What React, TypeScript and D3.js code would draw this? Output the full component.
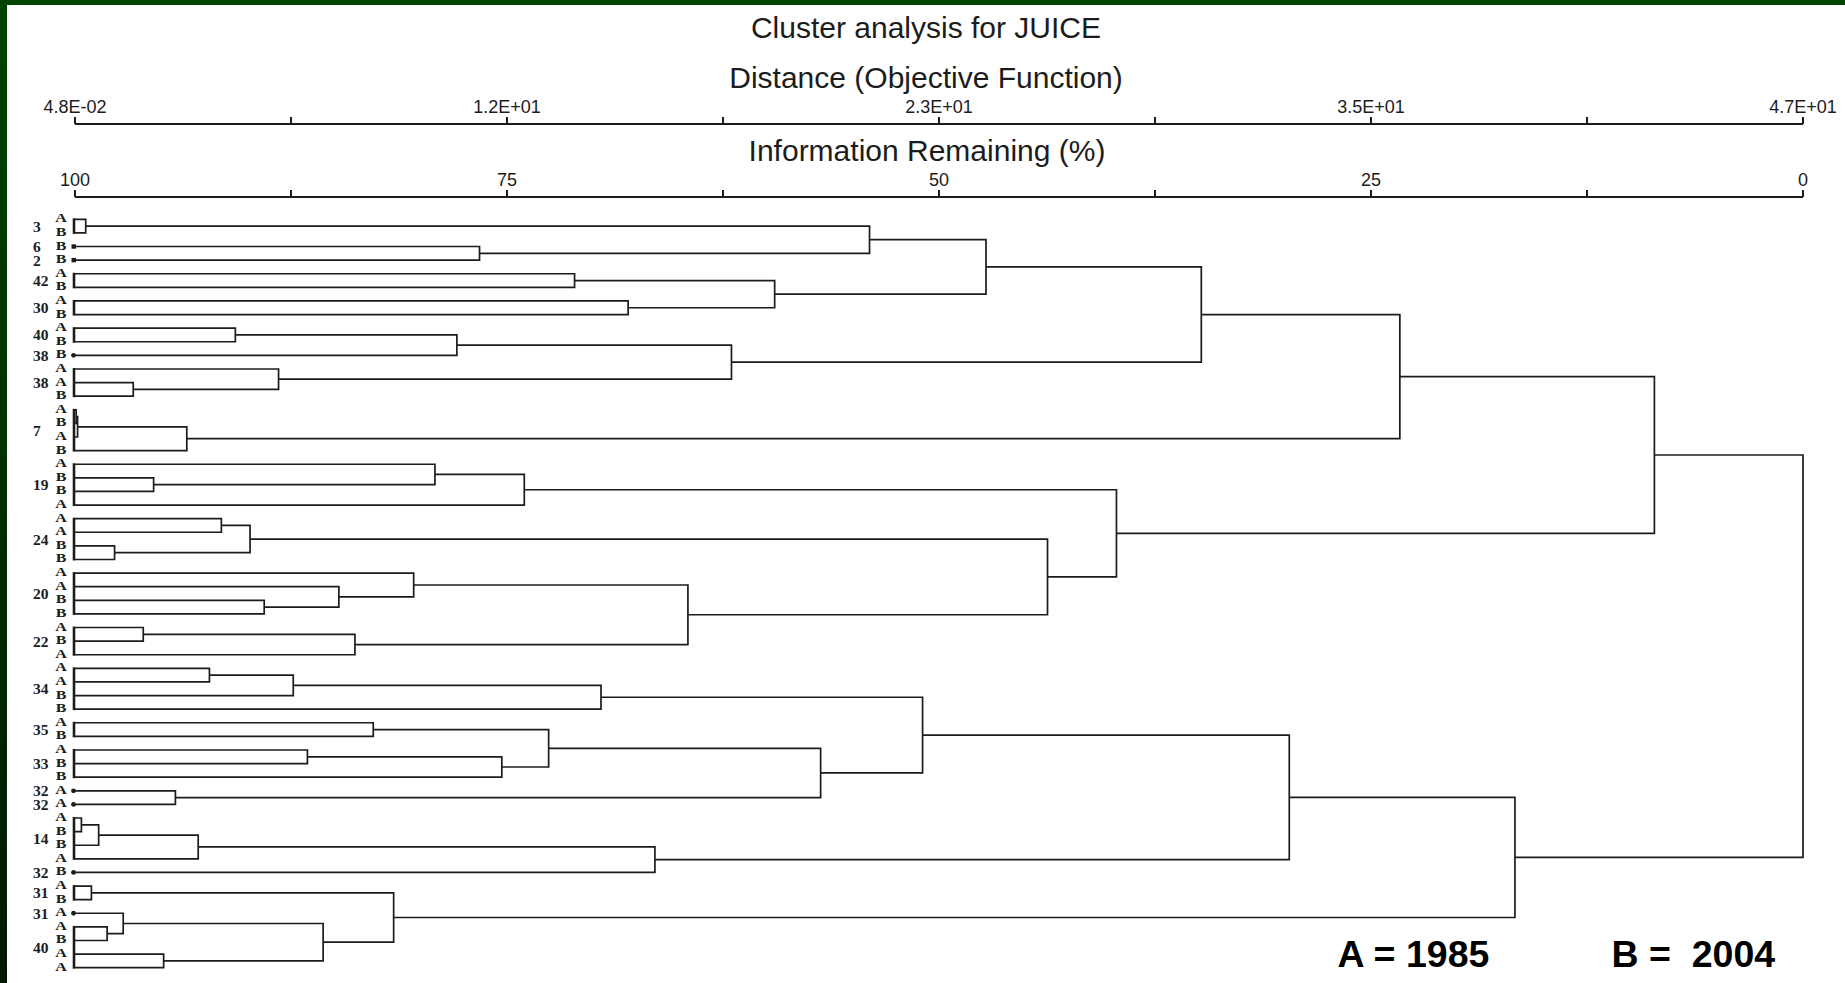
import React from 'react';
import * as d3 from 'd3';

// ---------------- data ----------------
const title = 'Cluster analysis for JUICE';
const distanceTitle = 'Distance (Objective Function)';
const infoTitle = 'Information Remaining (%)';

// major tick positions (information remaining, %) and their labels on the two axes
const majorTicks = [100, 75, 50, 25, 0];
const infoLabels = ['100', '75', '50', '25', '0'];
const distanceLabels = ['4.8E-02', '1.2E+01', '2.3E+01', '3.5E+01', '4.7E+01'];
const minorTicks = [87.5, 62.5, 37.5, 12.5];

// leaf groups, top to bottom: site number and the years (A/B) of its leaves
const groupSites = ['3', '6', '2', '42', '30', '40', '38', '38', '7', '19', '24', '20', '22', '34', '35', '33', '32', '32', '14', '32', '31', '31', '40'];
const groupYears = ['AB', 'B', 'B', 'AB', 'AB', 'AB', 'B', 'AAB', 'ABAB', 'ABBA', 'AABB', 'AABB', 'ABA', 'AABB', 'AB', 'ABB', 'A', 'A', 'ABBA', 'B', 'AB', 'A', 'ABAA'];
const squareMarkerGroups = [1, 2];

// merges: [child a, child b, information remaining %]; leaves are 0..55, merge k creates node 56+k
const merges: [number, number, number][] = [
  [0, 1, 99.38],
  [2, 3, 76.59],
  [56, 57, 54.02],
  [4, 5, 71.09],
  [6, 7, 67.99],
  [59, 60, 59.51],
  [58, 61, 47.28],
  [8, 9, 90.72],
  [63, 10, 77.9],
  [12, 13, 96.63],
  [11, 65, 88.22],
  [64, 66, 62.01],
  [62, 67, 34.82],
  [14, 15, 99.93],
  [69, 16, 99.85],
  [70, 17, 93.53],
  [68, 71, 23.33],
  [19, 20, 95.45],
  [18, 73, 79.17],
  [74, 21, 74.0],
  [22, 23, 91.53],
  [24, 25, 97.71],
  [76, 77, 89.87],
  [28, 29, 89.05],
  [27, 79, 84.73],
  [26, 80, 80.4],
  [30, 31, 96.05],
  [82, 32, 83.8],
  [81, 83, 64.53],
  [78, 84, 43.72],
  [75, 85, 39.73],
  [72, 86, 8.6],
  [33, 34, 92.22],
  [88, 35, 87.37],
  [89, 36, 69.56],
  [37, 38, 82.74],
  [39, 40, 86.55],
  [92, 41, 75.3],
  [91, 93, 72.59],
  [42, 43, 94.19],
  [94, 95, 56.85],
  [90, 96, 50.95],
  [44, 45, 99.63],
  [98, 46, 98.63],
  [99, 47, 92.87],
  [100, 48, 66.44],
  [97, 101, 29.73],
  [49, 50, 99.05],
  [52, 53, 98.14],
  [51, 104, 97.21],
  [54, 55, 94.87],
  [105, 106, 85.64],
  [103, 107, 81.56],
  [102, 108, 16.67],
  [87, 109, 0],
];

const legendA = 'A = 1985';
const legendB = 'B =  2004';

// ---------------- chart ----------------
const W = 1845;
const H = 983;
const sans = '"Liberation Sans", Arial, Helvetica, sans-serif';
const serif = '"Liberation Serif", "Times New Roman", serif';
const ink = '#1c1c1c';

export default function App() {
  const leafYears = groupYears.join('').split('');
  const nLeaves = leafYears.length;

  const x = d3.scaleLinear().domain([100, 0]).range([75, 1803]);
  const y = d3.scaleLinear().domain([0, nLeaves - 1]).range([219.3, 967.7]);

  const nodeX: number[] = [];
  const nodeY: number[] = [];
  for (let i = 0; i < nLeaves; i++) {
    nodeX[i] = x(100);
    nodeY[i] = y(i);
  }
  const p = d3.path();
  merges.forEach(([a, b, h], k) => {
    const id = nLeaves + k;
    const xp = x(h);
    nodeX[id] = xp;
    nodeY[id] = (nodeY[a] + nodeY[b]) / 2;
    p.moveTo(nodeX[a], nodeY[a]);
    p.lineTo(xp, nodeY[a]);
    p.lineTo(xp, nodeY[b]);
    p.lineTo(nodeX[b], nodeY[b]);
  });

  // groups
  const groups: { site: string; start: number; end: number; idx: number }[] = [];
  let cursor = 0;
  groupSites.forEach((site, gi) => {
    const n = groupYears[gi].length;
    groups.push({ site, start: cursor, end: cursor + n - 1, idx: gi });
    cursor += n;
  });

  const topAxisY = 124;
  const botAxisY = 197;
  const allTicks = [...majorTicks, ...minorTicks];

  return (
    <svg
      width={W}
      height={H}
      style={{ position: 'absolute', left: 0, top: 0, background: '#ffffff' }}
    >
      <defs>
        <linearGradient id="leftband" x1="0" y1="0" x2="0" y2="1">
          <stop offset="0" stopColor="#004400" />
          <stop offset="1" stopColor="#001a00" />
        </linearGradient>
      </defs>
      <rect x={0} y={0} width={W} height={H} fill="#ffffff" />
      <rect x={0} y={0} width={W} height={5} fill="#004400" />
      <rect x={0} y={0} width={7} height={H} fill="url(#leftband)" />

      {/* titles */}
      <text x={926} y={38} textAnchor="middle" fontFamily={sans} fontSize={30} fill={ink}>
        {title}
      </text>
      <text x={926} y={88} textAnchor="middle" fontFamily={sans} fontSize={30} fill={ink}>
        {distanceTitle}
      </text>
      <text x={927} y={161} textAnchor="middle" fontFamily={sans} fontSize={30} fill={ink}>
        {infoTitle}
      </text>

      {/* top axis (distance) */}
      <line x1={x(100)} x2={x(0)} y1={topAxisY} y2={topAxisY} stroke={ink} strokeWidth={2} />
      {allTicks.map((t) => (
        <line key={'tt' + t} x1={x(t)} x2={x(t)} y1={topAxisY - 7} y2={topAxisY} stroke={ink} strokeWidth={2} />
      ))}
      {majorTicks.map((t, i) => (
        <text key={'tl' + t} x={x(t)} y={112.5} textAnchor="middle" fontFamily={sans} fontSize={18} fill={ink}>
          {distanceLabels[i]}
        </text>
      ))}

      {/* bottom axis (information remaining) */}
      <line x1={x(100)} x2={x(0)} y1={botAxisY} y2={botAxisY} stroke={ink} strokeWidth={2} />
      {allTicks.map((t) => (
        <line key={'bt' + t} x1={x(t)} x2={x(t)} y1={botAxisY - 7} y2={botAxisY} stroke={ink} strokeWidth={2} />
      ))}
      {majorTicks.map((t, i) => (
        <text key={'bl' + t} x={x(t)} y={185.5} textAnchor="middle" fontFamily={sans} fontSize={18} fill={ink}>
          {infoLabels[i]}
        </text>
      ))}

      {/* dendrogram */}
      <path d={p.toString()} fill="none" stroke={ink} strokeWidth={1.7} />

      {/* group brackets / markers at the leaves */}
      {groups.map((g) =>
        g.end > g.start ? (
          <line
            key={'g' + g.idx}
            x1={x(100) - 1}
            x2={x(100) - 1}
            y1={y(g.start) - 1}
            y2={y(g.end) + 1}
            stroke={ink}
            strokeWidth={2.6}
          />
        ) : squareMarkerGroups.includes(g.idx) ? (
          <rect key={'g' + g.idx} x={x(100) - 3.5} y={y(g.start) - 2.2} width={4.5} height={4.4} fill={ink} />
        ) : (
          <circle key={'g' + g.idx} cx={x(100) - 1.5} cy={y(g.start)} r={2.4} fill={ink} />
        )
      )}

      {/* group numbers */}
      {groups.map((g) => (
        <text
          key={'n' + g.idx}
          x={33}
          y={(y(g.start) + y(g.end)) / 2 + 5.5}
          fontFamily={serif}
          fontWeight="bold"
          fontSize={15.5}
          fill={ink}
        >
          {g.site}
        </text>
      ))}

      {/* year letters */}
      {leafYears.map((yr, i) => (
        <text
          key={'l' + i}
          transform={`translate(61,${y(i) + 3}) scale(1,0.8)`}
          textAnchor="middle"
          fontFamily={serif}
          fontWeight="bold"
          fontSize={16}
          fill={ink}
        >
          {yr}
        </text>
      ))}

      {/* legend */}
      <text x={1337.5} y={966.5} fontFamily={sans} fontWeight="bold" fontSize={37.5} fill="#000" style={{ whiteSpace: 'pre' }}>
        {legendA}
      </text>
      <text x={1611.5} y={966.5} fontFamily={sans} fontWeight="bold" fontSize={37.5} fill="#000" style={{ whiteSpace: 'pre' }}>
        {legendB}
      </text>
    </svg>
  );
}
